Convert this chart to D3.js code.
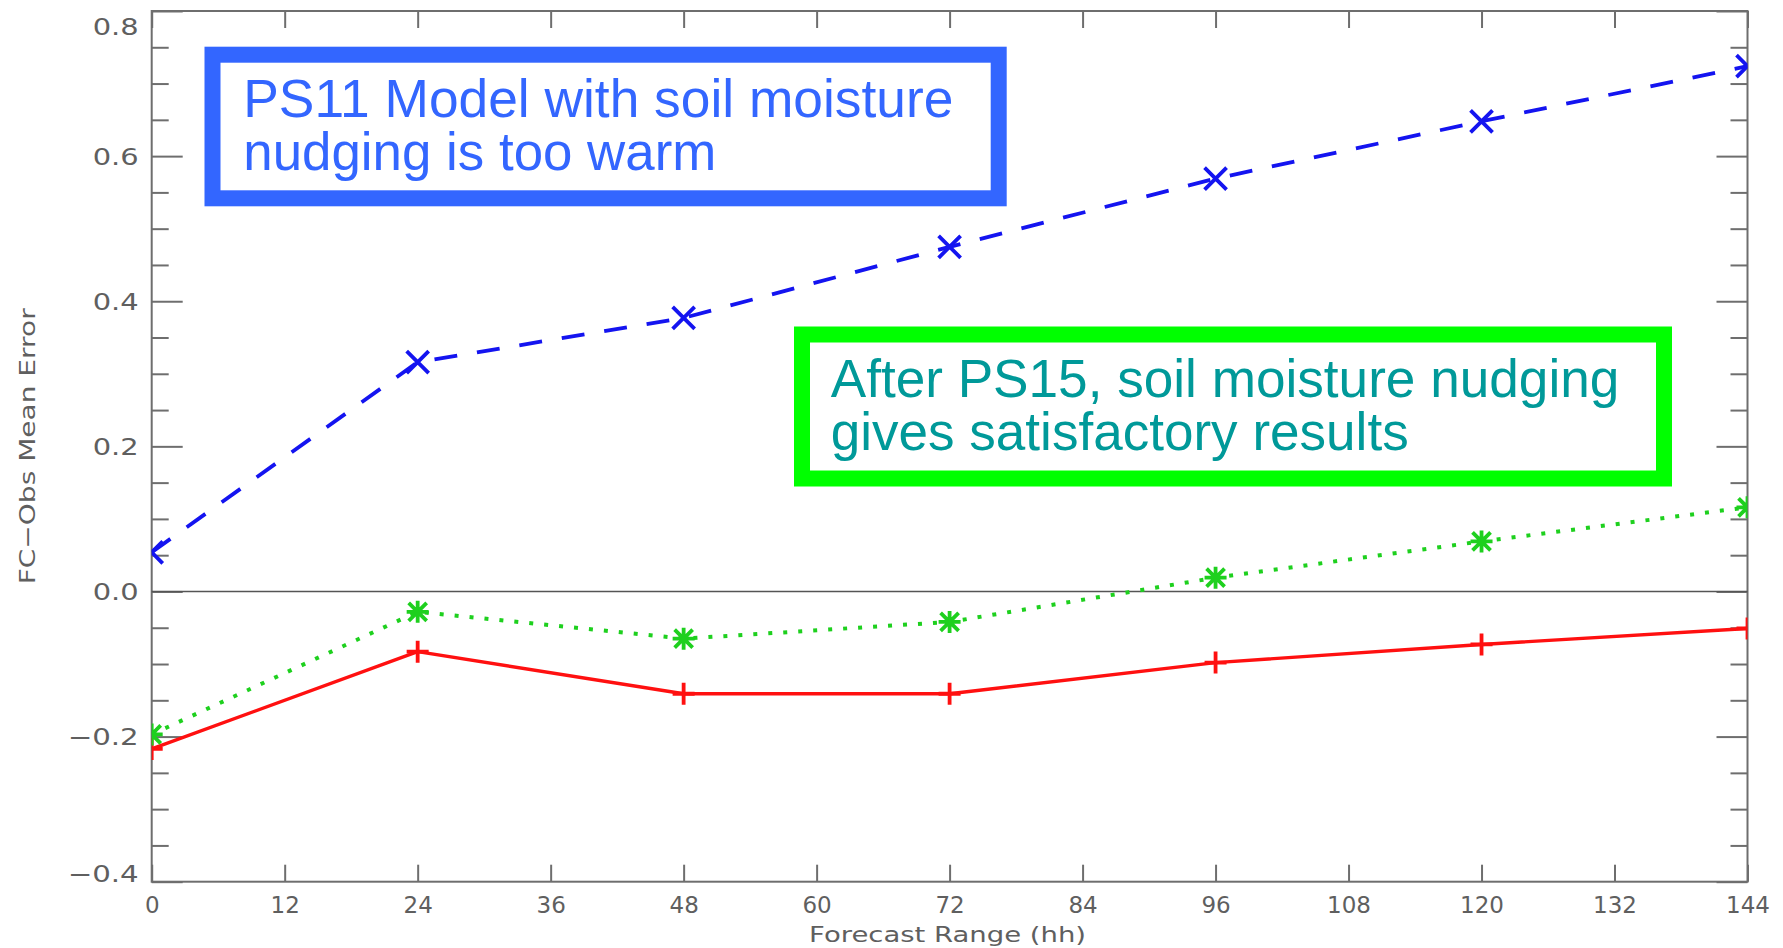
<!DOCTYPE html>
<html>
<head>
<meta charset="utf-8">
<script src="https://cdn.jsdelivr.net/npm/d3@7"></script>
<style>
  html, body { margin: 0; padding: 0; background: #fff; }
  svg { display: block; }
</style>
</head>
<body>
<svg id="chart" width="1783" height="948"></svg>
<script>
// ---- data ----
const forecastHours = [0, 24, 48, 72, 96, 120, 144];
const ps11Nudging   = [0.054, 0.316, 0.377, 0.475, 0.569, 0.648, 0.724];
const ps15Nudging   = [-0.197, -0.028, -0.065, -0.042, 0.019, 0.069, 0.116];
const reference     = [-0.217, -0.083, -0.141, -0.141, -0.098, -0.073, -0.051];
const xTickValues   = [0, 12, 24, 36, 48, 60, 72, 84, 96, 108, 120, 132, 144];
const yTickValues   = [-0.4, -0.2, 0.0, 0.2, 0.4, 0.6, 0.8];
const yMinorValues  = [-0.35, -0.3, -0.25, -0.15, -0.1, -0.05, 0.05, 0.1, 0.15, 0.25, 0.3, 0.35, 0.45, 0.5, 0.55, 0.65, 0.7, 0.75];
const xTitle = "Forecast Range (hh)";
const yTitle = "FC\u2212Obs Mean Error";
const blueNote  = ["PS11 Model with soil moisture", "nudging is too warm"];
const greenNote = ["After PS15, soil moisture nudging", "gives satisfactory results"];

// ---- layout ----
const L = 151.7, R = 1747.5, T = 11, B = 881.7;
const svg = d3.select("#chart");
const x = d3.scaleLinear().domain([0, 144]).range([L, R]);
const y = d3.scaleLinear().domain([-0.4, 0.8]).range([B, T]);
const axisColor = "#6e6e6e";
const tickFont = "DejaVu Sans, sans-serif";

svg.append("defs").append("clipPath").attr("id", "plotClip")
  .append("rect").attr("x", L).attr("y", T).attr("width", R - L).attr("height", B - T);

function styleAxis(g) {
  g.selectAll(".tick line").attr("stroke", axisColor).attr("stroke-width", 2);
  g.selectAll("text").attr("fill", "#5f5f5f").attr("font-family", tickFont).attr("font-size", 23);
}
const fmtY = v => (v < 0 ? "\u2212" : "") + Math.abs(v).toFixed(1);

// left axis (major)
const gl = svg.append("g").attr("transform", `translate(${L},0)`)
  .call(d3.axisLeft(y).tickValues(yTickValues).tickSize(-31).tickPadding(13).tickFormat(fmtY));
styleAxis(gl);
gl.selectAll(".tick text")
  .attr("textLength", d => d < 0 ? 71 : 46)
  .attr("lengthAdjust", "spacingAndGlyphs")
  .attr("dy", d => d === 0.8 ? "1.0em" : (d === -0.4 ? "0.0em" : "0.36em"));
// left minor
const glm = svg.append("g").attr("transform", `translate(${L},0)`)
  .call(d3.axisLeft(y).tickValues(yMinorValues).tickSize(-17).tickFormat(""));
styleAxis(glm);

// right axis
const gr = svg.append("g").attr("transform", `translate(${R},0)`)
  .call(d3.axisRight(y).tickValues(yTickValues).tickSize(-31).tickFormat(""));
styleAxis(gr);
const grm = svg.append("g").attr("transform", `translate(${R},0)`)
  .call(d3.axisRight(y).tickValues(yMinorValues).tickSize(-17).tickFormat(""));
styleAxis(grm);

// bottom axis
const gb = svg.append("g").attr("transform", `translate(0,${B})`)
  .call(d3.axisBottom(x).tickValues(xTickValues).tickSize(-17).tickPadding(15).tickFormat(d3.format("d")));
styleAxis(gb);
// top axis
const gt = svg.append("g").attr("transform", `translate(0,${T})`)
  .call(d3.axisTop(x).tickValues(xTickValues).tickSize(-17).tickFormat(""));
styleAxis(gt);
[gl, glm, gr, grm, gb, gt].forEach(g => g.select(".domain").remove());
// frame
svg.append("rect").attr("x", L).attr("y", T).attr("width", R - L).attr("height", B - T)
  .attr("fill", "none").attr("stroke", axisColor).attr("stroke-width", 2);

// zero line
svg.append("line").attr("x1", L).attr("x2", R).attr("y1", y(0)).attr("y2", y(0))
  .attr("stroke", "#555").attr("stroke-width", 1.6);

// axis titles
svg.append("text").attr("x", (L + R) / 2 - 2).attr("y", 941.5)
  .attr("text-anchor", "middle").attr("font-family", tickFont).attr("font-size", 22)
  .attr("fill", "#5f5f5f").attr("textLength", 277).attr("lengthAdjust", "spacingAndGlyphs")
  .text(xTitle);
svg.append("text").attr("transform", `translate(35,${(T + B) / 2}) rotate(-90)`)
  .attr("text-anchor", "middle").attr("font-family", tickFont).attr("font-size", 22)
  .attr("fill", "#5f5f5f").attr("textLength", 276).attr("lengthAdjust", "spacingAndGlyphs")
  .text(yTitle);

// ---- series ----
const plot = svg.append("g").attr("clip-path", "url(#plotClip)");
const s = 11;
const markerX = `M${-s},${-s}L${s},${s}M${-s},${s}L${s},${-s}`;
const markerPlus = `M${-s},0L${s},0M0,${-s}L0,${s}`;
const ms = 9;
const markerAst = `M${-ms},${-ms}L${ms},${ms}M${-ms},${ms}L${ms},${-ms}M${-s},0L${s},0M0,${-s}L0,${s}`;

const series = [
  { values: reference,   color: "#ff1010", dash: null,    width: 3.4, marker: markerPlus },
  { values: ps15Nudging, color: "#1ed01e", dash: "4,11",  width: 4,   marker: markerAst },
  { values: ps11Nudging, color: "#1414f0", dash: "23,20", width: 3.8, marker: markerX }
];
const line = d3.line().x((d, i) => x(forecastHours[i])).y(d => y(d));
series.forEach(sr => {
  plot.append("path").datum(sr.values).attr("d", line)
    .attr("fill", "none").attr("stroke", sr.color).attr("stroke-width", sr.width)
    .attr("stroke-dasharray", sr.dash).attr("stroke-linejoin", "round");
  plot.selectAll(null).data(sr.values).enter().append("path")
    .attr("transform", (d, i) => `translate(${x(forecastHours[i])},${y(d)})`)
    .attr("d", sr.marker).attr("fill", "none")
    .attr("stroke", sr.color).attr("stroke-width", 3.8);
});

// ---- annotation boxes ----
function noteBox(x0, y0, x1, y1, color, textColor, lines, tx, ty, lens) {
  const bw = 16;
  svg.append("rect").attr("x", x0 + bw / 2).attr("y", y0 + bw / 2)
    .attr("width", x1 - x0 - bw).attr("height", y1 - y0 - bw)
    .attr("fill", "#fff").attr("stroke", color).attr("stroke-width", bw);
  const t = svg.append("text")
    .attr("font-family", "Liberation Sans, Arial, sans-serif").attr("font-size", 53)
    .attr("fill", textColor);
  lines.forEach((str, i) => {
    t.append("tspan").attr("x", tx).attr("y", ty + i * 53)
      .attr("textLength", lens[i]).attr("lengthAdjust", "spacingAndGlyphs")
      .text(str);
  });
}
noteBox(204.5, 46.7, 1006.7, 206.3, "#3366ff", "#3366ff", blueNote, 243.3, 117.3, [710, 473]);
noteBox(794, 326.5, 1672, 486.5, "#00ff00", "#009999", greenNote, 830.7, 396.7, [788.6, 578]);
</script>
</body>
</html>
